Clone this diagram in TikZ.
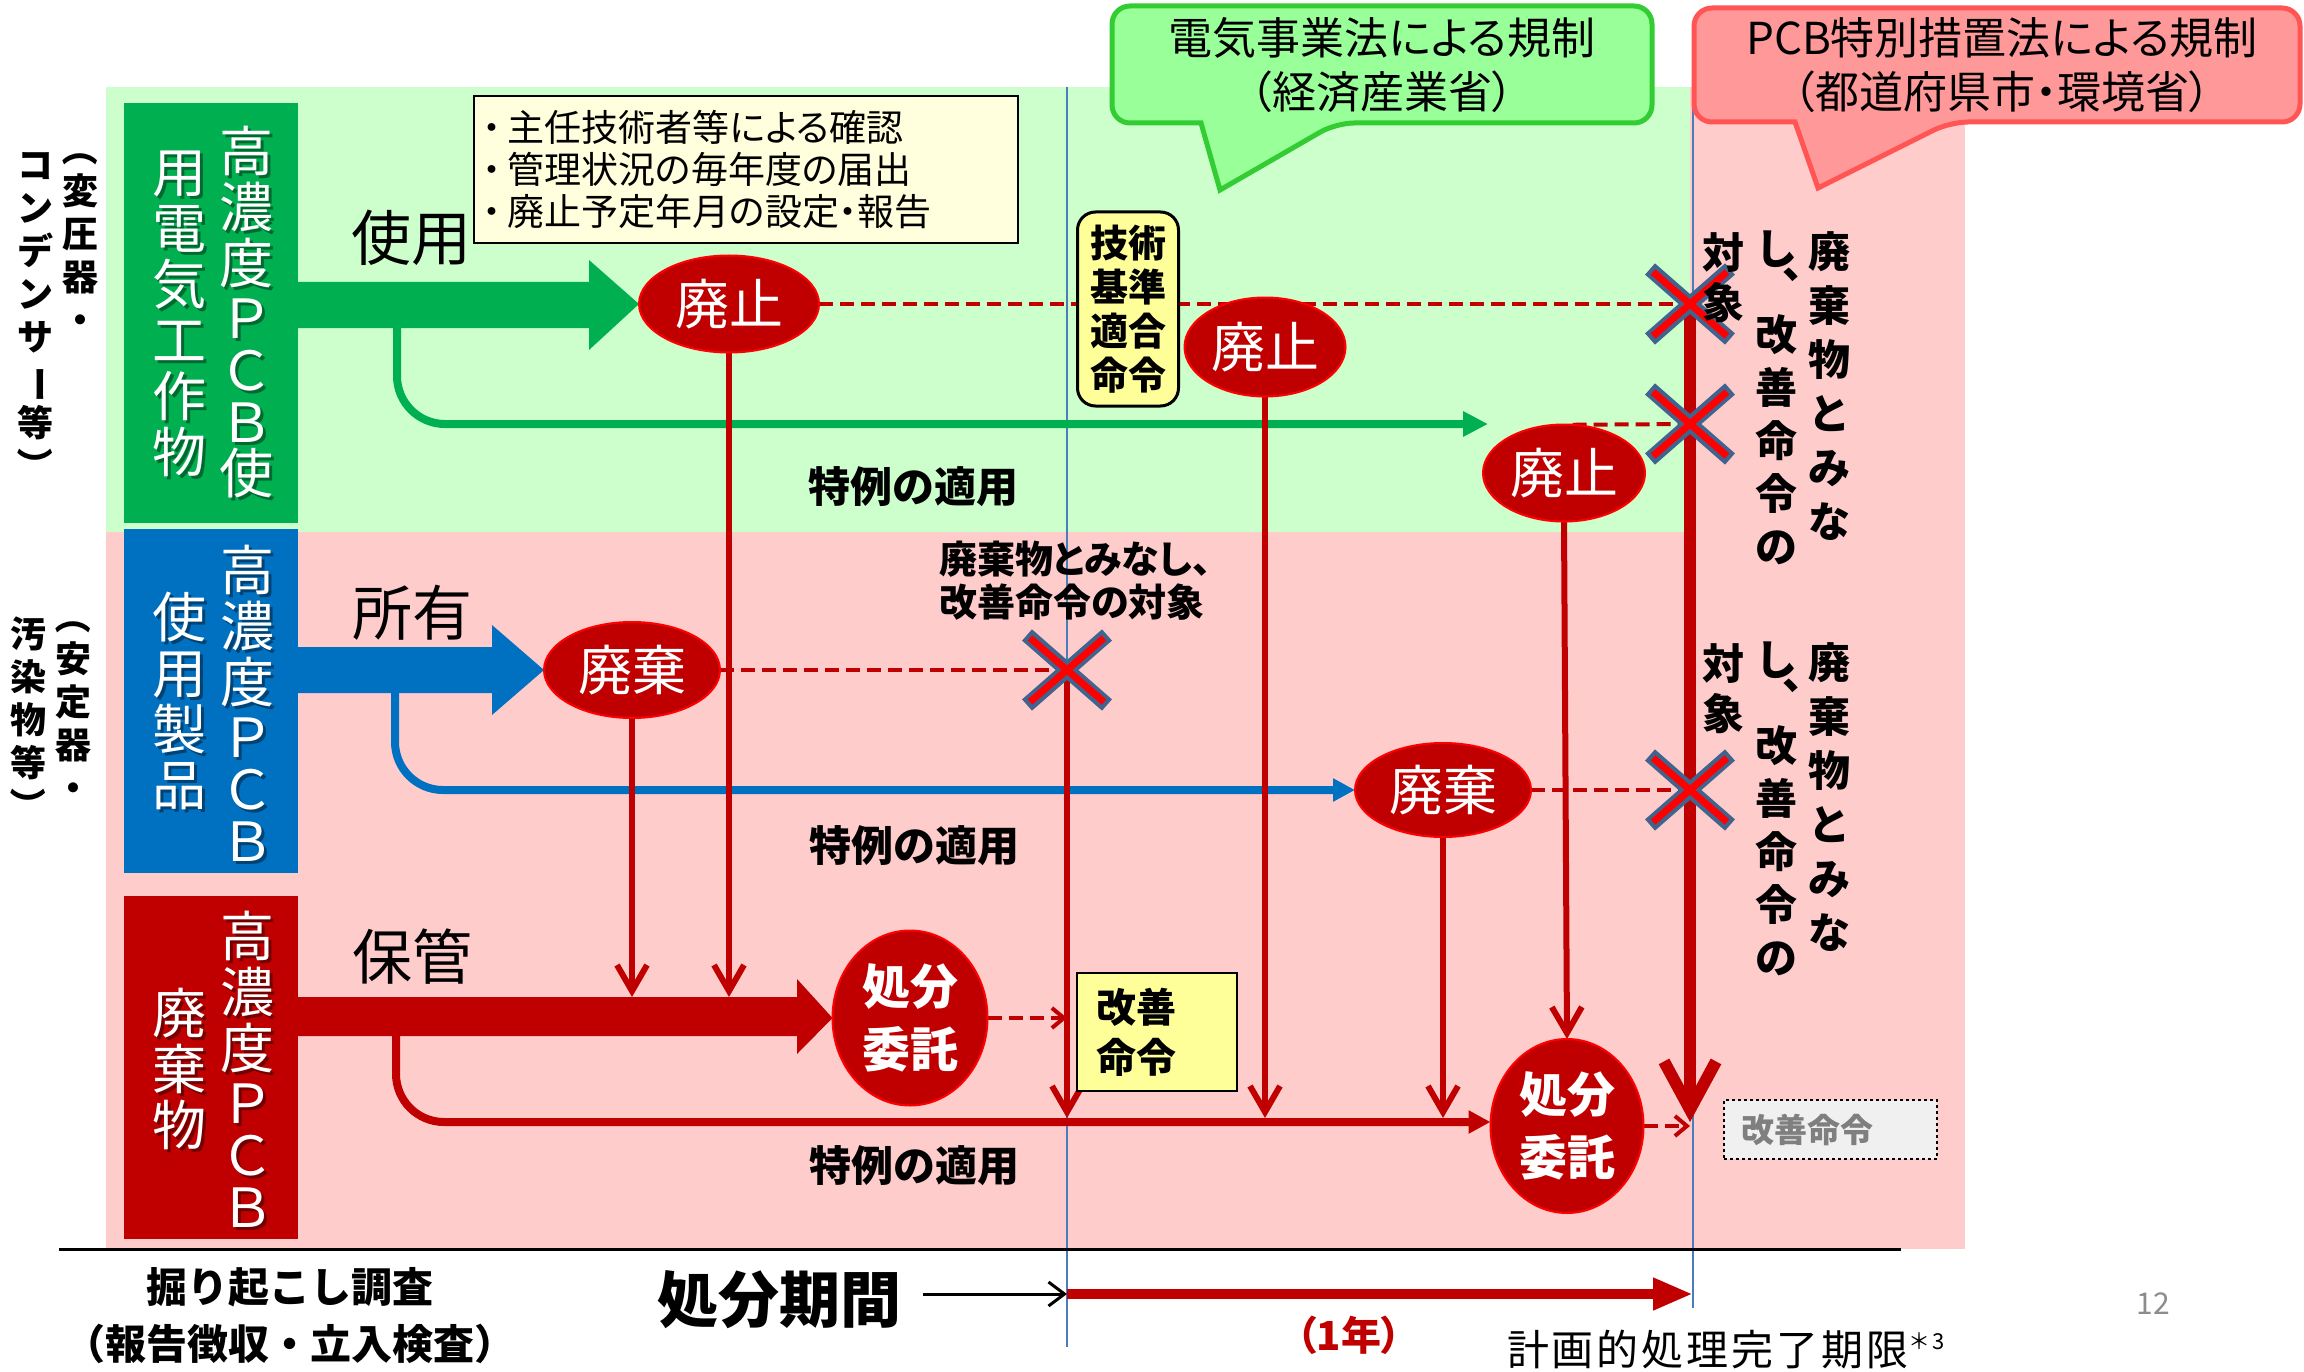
\documentclass[tikz,border=0pt]{standalone}
\usepackage{fontspec}
\usepackage{graphicx}
\setmainfont{Noto Sans CJK JP}
\newfontfamily\jpp[RawFeature=+palt]{Noto Sans CJK JP}
\usetikzlibrary{arrows.meta,shapes.geometric}
\pgfdeclarelayer{back}
\pgfdeclarelayer{lines}
\pgfsetlayers{back,lines,main}
\definecolor{bgG}{HTML}{CCFFCC}
\definecolor{bgP}{HTML}{FFCCCC}
\definecolor{cG}{HTML}{00B050}
\definecolor{cB}{HTML}{0070C0}
\definecolor{cR}{HTML}{C00000}
\definecolor{lineB}{HTML}{4A7EBB}
\definecolor{xBlue}{HTML}{41648F}
\definecolor{xRed}{HTML}{FF0000}
\definecolor{yel}{HTML}{FFFF99}
\definecolor{yelL}{HTML}{FFFFDD}
\definecolor{calG}{HTML}{99FF99}
\definecolor{calGb}{HTML}{33CC33}
\definecolor{calR}{HTML}{FF9999}
\definecolor{calRb}{HTML}{FF5555}
\definecolor{grayT}{HTML}{7F7F7F}
\newcommand\jf[2]{\fontsize{#1}{#2}\selectfont}
\newcommand\myLP{\rotatebox[origin=c]{-90}{（}}
\newcommand\myRP{\rotatebox[origin=c]{-90}{）}}
\newcommand\myBar{\rotatebox[origin=c]{-90}{ー}}
\newcommand\vcomma{\rlap{\hspace{-15pt}\raisebox{-14pt}{、}}}
\lineskiplimit=-200pt
\lineskip=0pt
\newcommand\xmark[1]{%
  \draw[xBlue,line width=15pt,shift={(#1)}] (-40,-35) -- (40,35) (-40,35) -- (40,-35);
  \draw[xRed,line width=7pt,shift={(#1)}] (-37,-32) -- (37,32) (-37,32) -- (37,-32);}
\newcommand\vcol[4]{%
  \node[boxsh] at (#2+3,#3+3) {#4};
  \node[boxtxt] (#1) at (#2,#3) {#4};}
\tikzset{
  ell/.style={ellipse, fill=cR, draw=red, line width=2pt, text=white, inner sep=0pt},
  vline/.style={draw=cR, line width=6pt, -{Straight Barb[length=26pt,width=30pt]}},
  dashR/.style={draw=cR, line width=4pt, dash pattern=on 14pt off 7pt},
  branch/.style={line width=8pt, rounded corners=48pt},
  guide/.style={draw=lineB, line width=1.6pt},
  boxtxt/.style={text=white, align=center, font=\jf{54}{56}},
  boxsh/.style={text=black, opacity=0.4, align=center, font=\jf{54}{56}},
  side/.style={align=center, font=\bfseries\jf{36}{43}},
  rtxt/.style={align=center, font=\bfseries\jf{42}{54}},
  tok/.style={font=\bfseries\jf{42}{42}},
  act/.style={font=\jf{60}{60}},
}
\begin{document}
\begin{tikzpicture}[x=1pt,y=-1pt,every node/.style={inner sep=0pt,outer sep=0pt}]
\useasboundingbox (0,0) rectangle (2304,1372);
\begin{pgfonlayer}{back}
\fill[white] (0,0) rectangle (2304,1372);
\fill[bgG] (106,87) rectangle (1690,532);
\fill[bgP] (106,532) rectangle (1965,1249);
\fill[bgP] (1690,87) rectangle (1965,532);
\coordinate (gA1) at (1067,87); \coordinate (gA2) at (1067,1347);
\coordinate (gB1) at (1693,87); \coordinate (gB2) at (1693,1308);
\draw[guide] (gA1) -- (gA2);
\draw[guide] (gB1) -- (gB2);
\coordinate (r1) at (59,1249); \coordinate (r2) at (1901,1249);
\draw[line width=3pt] (r1) -- (r2);
\end{pgfonlayer}

% category boxes
\node[fill=cG, minimum width=174, minimum height=420] (gbox) at (210.5,313) {};
\node[fill=cB, minimum width=174, minimum height=344] (bbox) at (210.5,701) {};
\node[fill=cR, minimum width=174, minimum height=343] (rbox) at (210.5,1067.5) {};
\vcol{g1}{246}{312}{高\\濃\\度\\[-1pt]Ｐ\\[-4pt]Ｃ\\[-4pt]Ｂ\\[-5pt]使}
\vcol{g2}{179}{314}{用\\電\\気\\工\\作\\物}
\vcol{b1}{247}{703}{高\\濃\\度\\[-1pt]Ｐ\\[-4pt]Ｃ\\[-4pt]Ｂ}
\vcol{b2}{179}{701}{使\\用\\製\\品}
\vcol{r1t}{247}{1069}{高\\濃\\度\\[-1pt]Ｐ\\[-4pt]Ｃ\\[-4pt]Ｂ}
\vcol{r2t}{179}{1069}{廃\\棄\\物}

% side labels
\node[side] (sA1) at (80,232) {\myLP\\変\\圧\\器\\・};
\node[side] (sA2) at (35,318) {コ\\ン\\デ\\ン\\サ\\\myBar\\等\\\myRP};
\node[side] (sB1) at (73,700) {\myLP\\安\\定\\器\\・};
\node[side] (sB2) at (28,720) {汚\\染\\物\\等\\\myRP};

% action labels
\node[act] (use) at (411,238) {使用};
\node[act] (own) at (412,613) {所有};
\node[act] (keep) at (412,957) {保管};

% ellipses
\node[ell, minimum width=180, minimum height=97, font=\jf{54}{54}] (haishi1) at (729,304) {廃止};
\node[ell, minimum width=161, minimum height=99, font=\jf{54}{54}] (haishi2) at (1265,347) {廃止};
\node[ell, minimum width=162, minimum height=97, font=\jf{54}{54}] (haishi3) at (1564,473) {廃止};
\node[ell, minimum width=176, minimum height=96, font=\jf{54}{54}] (haiki1) at (632,670) {廃棄};
\node[ell, minimum width=176, minimum height=94, font=\jf{54}{54}] (haiki2) at (1443,790) {廃棄};
\node[ell, minimum width=155, minimum height=175, align=center, font=\bfseries\jf{48}{63}] (shobun1) at (910,1018) {処分\\委託};
\node[ell, minimum width=153, minimum height=174, align=center, font=\bfseries\jf{48}{63}] (shobun2) at (1567,1126) {処分\\委託};

% X coordinates
\coordinate (X1) at (1690,304);
\coordinate (X2) at (1690,424);
\coordinate (X3) at (1067,670);
\coordinate (X4) at (1690,790);

\begin{pgfonlayer}{lines}
% fat arrows
\fill[cG] (gbox.east |- 0,282) -- (589,282) -- (589,260) -- (haishi1.west) -- (589,350) -- (589,328) -- (gbox.east |- 0,328) -- cycle;
\fill[cB] (bbox.east |- 0,647) -- (492,647) -- (492,625) -- (haiki1.west) -- (492,715) -- (492,693) -- (bbox.east |- 0,693) -- cycle;
\fill[cR] (rbox.east |- 0,997) -- (797,997) -- (797,979) -- (shobun1.west) -- (797,1054) -- (797,1036) -- (rbox.east |- 0,1036) -- cycle;
% branches
\coordinate (gs) at (397,322);
\coordinate (gEnd) at (1488,424);
\coordinate (bs) at (395,688);
\coordinate (rs) at (396,1031);
\draw[branch, cG, -{Triangle[length=25pt,width=24pt]}] (gs) -- (397,424) -- (gEnd);
\draw[branch, cB, -{Triangle[length=22pt,width=22pt]}] (bs) -- (395,790) -- (haiki2.west);
\draw[branch, cR, -{Triangle[length=22pt,width=22pt]}] (rs) -- (396,1122) -- (shobun2.west |- 0,1122);
% dashed
\draw[dashR] (haishi1.east) -- (X1);
\draw[dashR] (haishi3.80) -- (X2);
\draw[dashR] (haiki1.east) -- (X3);
\draw[dashR] (haiki2.east) -- (X4);
\draw[dashR, -{Straight Barb[length=12pt,width=20pt]}] (shobun1.east) -- (shobun1.east -| gA1);
\draw[dashR, -{Straight Barb[length=12pt,width=20pt]}] (shobun2.east) -- (shobun2.east -| X1);
% vertical connectors
\draw[vline] (haishi1.south) -- (haishi1.south |- 0,997);
\draw[vline] (haiki1.south) -- (haiki1.south |- 0,997);
\draw[vline] (X3) -- (X3 |- 0,1118);
\draw[vline] (haishi2.south) -- (haishi2.south |- 0,1118);
\draw[vline] (haiki2.south) -- (haiki2.south |- 0,1118);
\draw[vline] (haishi3.south) -- (shobun2.north);
\draw[draw=cR, line width=12pt, -{Straight Barb[length=48pt,width=52pt]}] (X1) -- (X1 |- 0,1122);
\end{pgfonlayer}

\xmark{X1}
\xmark{X2}
\xmark{X3}
\xmark{X4}

% yellow boxes
\node[draw, line width=1.5pt, fill=yelL, anchor=north west, minimum width=544, minimum height=147,
      text width=526, inner xsep=9pt, align=left, font=\jpp\jf{37}{42}] (bul) at (474,96)
  {・\hspace{6pt}主任技術者等による確認\\・\hspace{6pt}管理状況の毎年度の届出\\・\hspace{6pt}廃止予定年月の設定・報告};
\node[draw, line width=3pt, fill=yel, rounded corners=18pt, minimum width=101, minimum height=194,
      align=center, font=\bfseries\jf{38}{44}] (gijutsu) at (1128,309) {技術\\基準\\適合\\命令};
\node[draw, line width=2pt, fill=yel, anchor=north west, minimum width=160, minimum height=118,
      text width=122, inner xsep=19pt, align=left, font=\bfseries\jf{40}{50}] (kaizen1) at (1077,973) {改善\\命令};
\node[draw, dashed, line width=2pt, fill=black!6, anchor=north west, minimum width=213, minimum height=59,
      text width=179, inner xsep=17pt, align=left, text=grayT, font=\bfseries\jf{33}{33}] (kaizen2) at (1724,1100) {改善命令};

% labels
\node[tok] (tok1) at (913,487) {特例の適用};
\node[tok] (tok2) at (914,846) {特例の適用};
\node[tok] (tok3) at (914,1166) {特例の適用};
\node[anchor=west, align=left, font=\bfseries\jpp\jf{38}{43}] (minashi) at (939,581) {廃棄物とみなし、\\改善命令の対象};

% right vertical texts
\node[rtxt] (ra1) at (1829,386) {廃\\棄\\物\\と\\み\\な};
\node[rtxt] (ra2) at (1776,256) {し\vcomma};
\node[rtxt, font=\bfseries\jf{42}{53}] (ra4) at (1776,440) {改\\善\\命\\令\\の};
\node[rtxt, font=\bfseries\jf{42}{50}] (ra5) at (1723,278) {対\\象};
\node[rtxt] (rb1) at (1829,797) {廃\\棄\\物\\と\\み\\な};
\node[rtxt] (rb2) at (1776,667) {し\vcomma};
\node[rtxt, font=\bfseries\jf{42}{53}] (rb4) at (1776,851) {改\\善\\命\\令\\の};
\node[rtxt, font=\bfseries\jf{42}{50}] (rb5) at (1723,689) {対\\象};

% callouts
\filldraw[fill=calG, draw=calGb, line width=5pt, rounded corners=18pt]
  (1201,123) -- (1112,123) -- (1112,6) -- (1652,6) -- (1652,123) -- (1336,123) [sharp corners] -- (1220,190) -- cycle;
\node[align=center, font=\jpp\jf{44}{54}] (callG) at (1382,65) {電気事業法による規制\\（経済産業省）};
\filldraw[fill=calR, draw=calRb, line width=5pt, rounded corners=18pt]
  (1795,122) -- (1694,122) -- (1694,8) -- (2300,8) -- (2300,122) -- (1950,122) [sharp corners] -- (1818,188) -- cycle;
\node[align=center, font=\jpp\jf{44}{54}] (callR) at (2002,65) {PCB特別措置法による規制\\（都道府県市・環境省）};

% bottom
\node[align=center, font=\bfseries\jf{41}{57}] (kussaku) at (290,1316) {掘り起こし調査\\（報告徴収・立入検査）};
\node[font=\bfseries\jf{61}{61}] (kikan) at (779,1300) {処分期間};
\coordinate (kS) at (1067,1294);
\coordinate (kE) at (1693,1294);
\draw[line width=3pt, shorten <=22pt, -{Straight Barb[length=16pt,width=24pt]}] (kikan.east |- kS) -- (kS);
\draw[cR, line width=10pt, -{Triangle[length=40pt,width=30pt]}] (kS) -- (kE);
\node[text=cR, font=\bfseries\jpp\jf{40}{40}] (ichinen) at (1349,1335) {（1年）};
\node[anchor=west, font=\addfontfeature{LetterSpace=7}\jf{42}{42}] (kigen) at (1507,1350) {計画的処理完了期限\raisebox{16pt}{\jf{22}{22}＊3}};
\node[text=black!45, font=\jf{30}{30}] (pg) at (2153,1304) {12};
\end{tikzpicture}
\end{document}
